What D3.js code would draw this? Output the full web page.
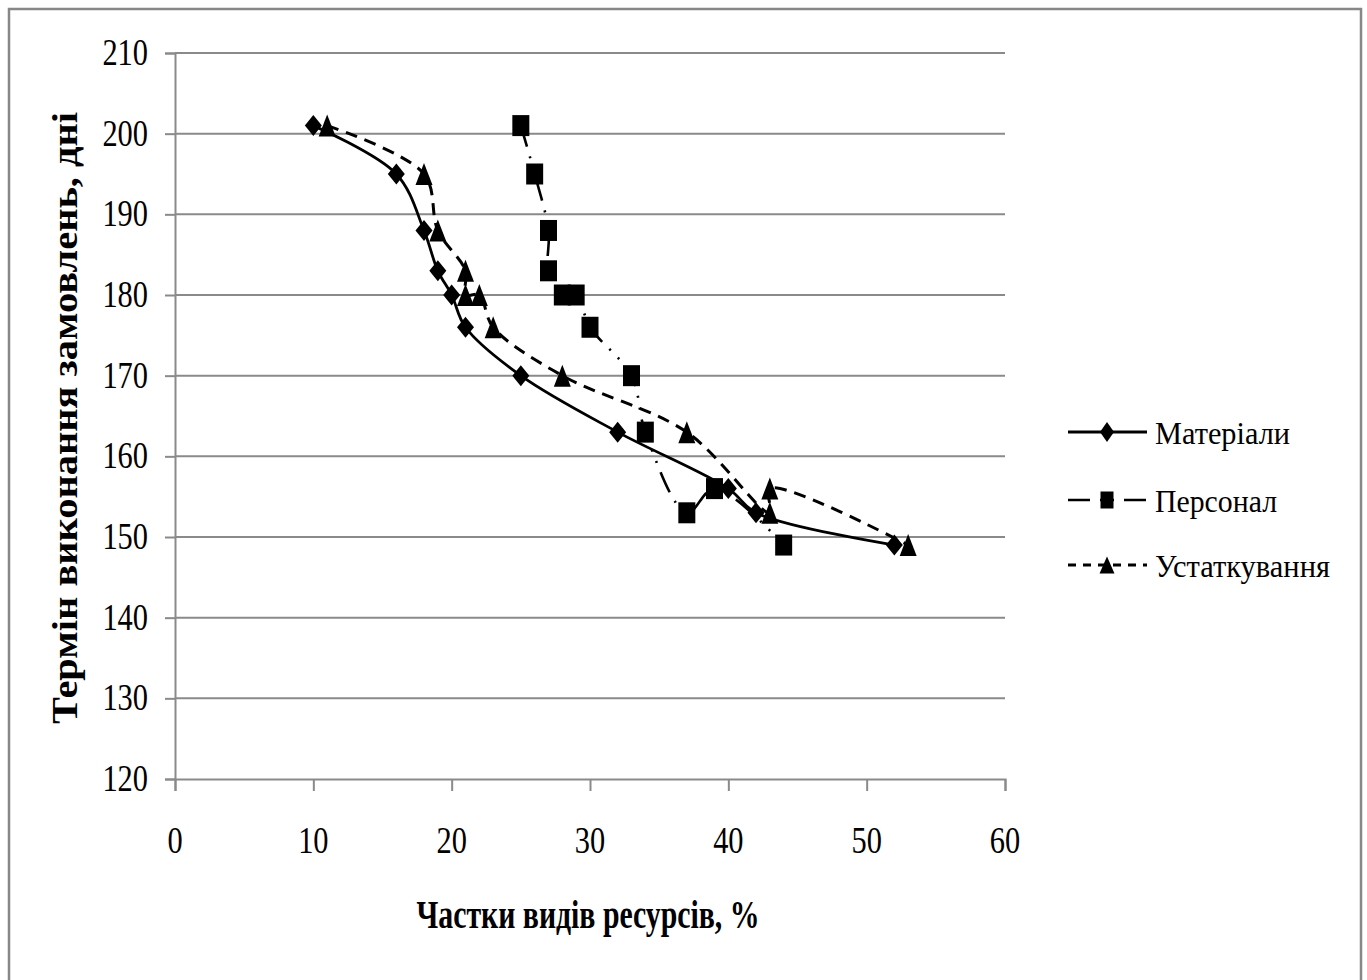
<!DOCTYPE html>
<html>
<head>
<meta charset="utf-8">
<script src="https://cdn.jsdelivr.net/npm/d3@7"></script>
<style>
  body { margin: 0; background: #fff; }
  text { font-family: "Liberation Serif", "Times New Roman", serif; fill: #000; }
</style>
</head>
<body>
<svg id="chart" width="1367" height="980"></svg>
<script>
// Series data: share of resource type (%) vs. order completion time (days)
const seriesNames = ["Матеріали", "Персонал", "Устаткування"];
const materialsX = [10, 16, 18, 19, 20, 21, 25, 32, 40, 42, 52];
const materialsY = [201, 195, 188, 183, 180, 176, 170, 163, 156, 153, 149];
const personnelX = [25, 26, 27, 27, 28, 29, 30, 33, 34, 37, 39, 44];
const personnelY = [201, 195, 188, 183, 180, 180, 176, 170, 163, 153, 156, 149];
const equipmentX = [11, 18, 19, 21, 21, 22, 23, 28, 37, 43, 43, 53];
const equipmentY = [201, 195, 188, 183, 180, 180, 176, 170, 163, 153, 156, 149];
const xTicks = [0, 10, 20, 30, 40, 50, 60];
const yTicks = [120, 130, 140, 150, 160, 170, 180, 190, 200, 210];
const xTitle = "Частки видів ресурсів, %";
const yTitle = "Термін виконання замовлень, дні";

const svg = d3.select("#chart");
const plot = { left: 175, right: 1005, top: 53, bottom: 779 };
const grid = "#8a8a8a";

// outer frame
svg.append("rect")
  .attr("x", 9).attr("y", 9).attr("width", 1352).attr("height", 1000)
  .attr("fill", "#fff").attr("stroke", "#878787").attr("stroke-width", 2.5);

const x = d3.scaleLinear().domain([0, 60]).range([plot.left, plot.right]);
const y = d3.scaleLinear().domain([120, 210]).range([plot.bottom, plot.top]);

// horizontal gridlines
svg.append("g").selectAll("line").data(yTicks.filter(t => t > 120)).join("line")
  .attr("x1", plot.left).attr("x2", plot.right)
  .attr("y1", d => y(d)).attr("y2", d => y(d))
  .attr("stroke", grid).attr("stroke-width", 2);

// axes
const xAxis = svg.append("g").attr("transform", `translate(0,${plot.bottom})`)
  .call(d3.axisBottom(x).tickValues(xTicks).tickSize(12).tickFormat(""));
const yAxis = svg.append("g").attr("transform", `translate(${plot.left},0)`)
  .call(d3.axisLeft(y).tickValues(yTicks).tickSize(10).tickFormat(""));
[xAxis, yAxis].forEach(a => {
  a.selectAll("path.domain").attr("stroke", grid).attr("stroke-width", 2);
  a.selectAll(".tick line").attr("stroke", grid).attr("stroke-width", 2);
});

// narrow, tall serif labels
function label(g, tx, ty, str, size, sx, anchor, weight) {
  return g.append("text")
    .attr("transform", `translate(${tx},${ty}) scale(${sx},1)`)
    .attr("text-anchor", anchor)
    .attr("font-size", size)
    .attr("font-weight", weight || "normal")
    .text(str);
}

const tickLabels = svg.append("g");
yTicks.forEach(t => label(tickLabels, 148, y(t) + 12, String(t), 38, 0.8, "end"));
xTicks.forEach(t => label(tickLabels, x(t), 853, String(t), 38, 0.8, "middle"));

// axis titles
svg.append("text")
  .attr("x", 588).attr("y", 928)
  .attr("text-anchor", "middle")
  .attr("font-size", 39).attr("font-weight", "bold")
  .attr("textLength", 343).attr("lengthAdjust", "spacingAndGlyphs")
  .text(xTitle);
svg.append("text")
  .attr("transform", "translate(77,418) rotate(-90)")
  .attr("text-anchor", "middle")
  .attr("font-size", 36).attr("font-weight", "bold")
  .attr("textLength", 612).attr("lengthAdjust", "spacingAndGlyphs")
  .text(yTitle);

// marker shapes
const shapes = {
  diamond: (w, h) => `M0,${-h / 2}L${w / 2},0L0,${h / 2}L${-w / 2},0Z`,
  square: (w, h) => `M${-w / 2},${-h / 2}H${w / 2}V${h / 2}H${-w / 2}Z`,
  triangle: (w, h) => `M0,${-h / 2}L${w / 2},${h / 2}L${-w / 2},${h / 2}Z`
};

const series = [
  { name: seriesNames[0], xs: materialsX, ys: materialsY, shape: "diamond", mw: 17, mh: 21, dash: null, ldash: null, width: 2.8, lw: 14, lh: 20 },
  { name: seriesNames[1], xs: personnelX, ys: personnelY, shape: "square", mw: 17, mh: 21, dash: "22,10,2,10,2,10", ldash: "22,10,2,10,2,10", width: 2.6, lw: 13, lh: 17 },
  { name: seriesNames[2], xs: equipmentX, ys: equipmentY, shape: "triangle", mw: 17, mh: 22, dash: "12,8", ldash: "8,7", width: 3, lw: 15, lh: 17 }
];

const line = d3.line().x(d => x(d[0])).y(d => y(d[1])).curve(d3.curveCatmullRom.alpha(0.5));

series.forEach(s => {
  const pts = s.xs.map((v, i) => [v, s.ys[i]]);
  const g = svg.append("g");
  g.append("path").attr("d", line(pts))
    .attr("fill", "none").attr("stroke", "#000")
    .attr("stroke-width", s.width)
    .attr("stroke-dasharray", s.dash);
  g.selectAll("path.m").data(pts).join("path").attr("class", "m")
    .attr("transform", d => `translate(${x(d[0])},${y(d[1])})`)
    .attr("d", shapes[s.shape](s.mw, s.mh))
    .attr("fill", "#000");
});

// legend
const legendY = [432, 500, 565];
const legend = svg.append("g");
series.forEach((s, i) => {
  const ly = legendY[i];
  legend.append("line")
    .attr("x1", 1068).attr("x2", 1147).attr("y1", ly).attr("y2", ly)
    .attr("stroke", "#000").attr("stroke-width", s.width)
    .attr("stroke-dasharray", s.ldash);
  legend.append("path")
    .attr("transform", `translate(1107,${ly})`)
    .attr("d", shapes[s.shape](s.lw, s.lh)).attr("fill", "#000");
});
const legendWidths = [135, 122, 175];
series.forEach((s, i) => {
  legend.append("text")
    .attr("x", 1155).attr("y", legendY[i] + 12)
    .attr("font-size", 32)
    .attr("textLength", legendWidths[i]).attr("lengthAdjust", "spacingAndGlyphs")
    .text(s.name);
});
</script>
</body>
</html>
